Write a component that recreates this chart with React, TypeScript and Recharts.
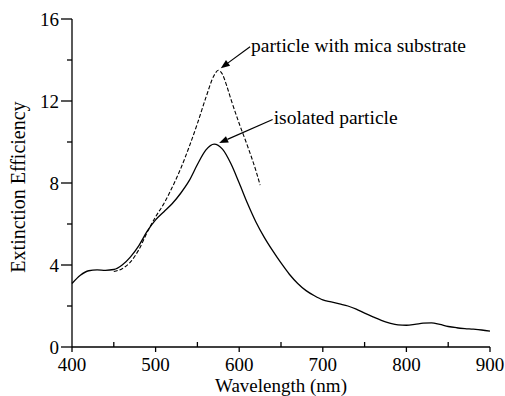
import React from 'react'
import { LineChart, Line, XAxis, YAxis, ReferenceLine } from 'recharts'

const isolatedWavelength = [
  400, 410, 420, 430, 440, 450, 460, 470, 480, 490, 500, 510, 520, 530, 540, 550, 560, 570, 580, 590,
  600, 610, 620, 630, 640, 650, 660, 670, 680, 690, 700, 710, 720, 730, 740, 750, 760, 770, 780, 790,
  800, 810, 820, 830, 840, 850, 860, 870, 880, 890, 900,
]
const isolatedEfficiency = [
  3.1, 3.5, 3.72, 3.76, 3.74, 3.78, 4.0, 4.4, 4.95, 5.65, 6.2, 6.6, 7.0, 7.5, 8.1, 8.9, 9.6, 9.9, 9.65, 8.95,
  8.0, 7.0, 6.1, 5.35, 4.7, 4.1, 3.55, 3.1, 2.75, 2.5, 2.3, 2.2, 2.1, 2.0, 1.85, 1.65, 1.47, 1.3, 1.17, 1.08,
  1.06, 1.1, 1.16, 1.18, 1.1, 1.0, 0.94, 0.9, 0.87, 0.83, 0.77,
]

const micaWavelength = [450, 460, 470, 480, 490, 500, 510, 520, 530, 540, 550, 560, 570, 575, 580, 585, 590, 600, 610, 620, 625]
const micaEfficiency = [3.68, 3.82, 4.15, 4.75, 5.6, 6.35, 7.0, 7.8, 8.7, 9.75, 10.9, 12.15, 13.25, 13.5, 13.3, 12.75, 12.1, 10.9, 9.8, 8.6, 7.9]

const xTicks = [400, 450, 500, 550, 600, 650, 700, 750, 800, 850, 900]
const yTicks = [0, 2, 4, 6, 8, 10, 12, 14, 16]

// annotation: label, where the leader starts (at the text), arrow tip on the curve
const notes = [
  { text: 'particle with mica substrate', from: { x: 613, y: 14.65 }, to: { x: 578, y: 13.6 } },
  { text: 'isolated particle', from: { x: 640, y: 11.1 }, to: { x: 576, y: 9.95 } },
]

const isolated = isolatedWavelength.map((w, i) => ({ w, v: isolatedEfficiency[i] }))
const mica = micaWavelength.map((w, i) => ({ w, v: micaEfficiency[i] }))

const font = { fontFamily: '"Liberation Serif", "Times New Roman", serif', fontSize: 19, fill: '#000' }

function XTick(props: any) {
  const { x, y, payload } = props
  const major = payload.value % 100 === 0
  return (
    <g>
      <line x1={x} x2={x} y1={y} y2={major ? y + 5 : y - 5} stroke="#000" strokeWidth={1.3} />
      {major && (
        <text x={x} y={y + 24} textAnchor="middle" {...font}>
          {payload.value}
        </text>
      )}
    </g>
  )
}

function YTick(props: any) {
  const { x, y, payload } = props
  const major = payload.value % 4 === 0
  return (
    <g>
      <line x1={x} x2={major ? x - 11 : x - 5} y1={y} y2={y} stroke="#000" strokeWidth={1.3} />
      {major && (
        <text x={x - 13} y={y + 6.5} textAnchor="end" {...font}>
          {payload.value}
        </text>
      )}
    </g>
  )
}

const XTitle = (p: any) => {
  const vb = p.viewBox
  return (
    <text x={vb.x + vb.width / 2} y={vb.y + 45} textAnchor="middle" {...font}>
      Wavelength (nm)
    </text>
  )
}

const YTitle = (p: any) => {
  const vb = p.viewBox
  const cx = vb.x + 15
  const cy = vb.y + vb.height / 2 + 4
  return (
    <text x={cx} y={cy} transform={`rotate(-90 ${cx} ${cy})`} textAnchor="middle" {...font} fontSize={20}>
      Extinction Efficiency
    </text>
  )
}

const arrowShape = (text: string) => (p: any) => {
  const { x1, y1, x2, y2 } = p
  const dx = x2 - x1
  const dy = y2 - y1
  const len = Math.sqrt(dx * dx + dy * dy)
  const ux = dx / len
  const uy = dy / len
  const bx = x2 - 9 * ux
  const by = y2 - 9 * uy
  const head = `${x2},${y2} ${bx - 3.5 * uy},${by + 3.5 * ux} ${bx + 3.5 * uy},${by - 3.5 * ux}`
  return (
    <g>
      <line x1={x1} y1={y1} x2={bx} y2={by} stroke="#000" strokeWidth={1.2} />
      <polygon points={head} fill="#000" />
      <text x={x1 + 1} y={y1 + 5} {...font} fontSize={19.5}>
        {text}
      </text>
    </g>
  )
}

export default function App() {
  return (
    <div style={{ position: 'absolute', left: 0, top: 0, background: '#fff' }}>
      <LineChart width={505} height={396} margin={{ top: 19, right: 15, bottom: 0, left: 10 }}>
        <XAxis
          dataKey="w"
          type="number"
          domain={[400, 900]}
          ticks={xTicks}
          interval={0}
          tick={<XTick />}
          tickLine={false}
          tickSize={0}
          tickMargin={0}
          height={49}
          axisLine={{ stroke: '#000', strokeWidth: 1.3 }}
          allowDuplicatedCategory={false}
          label={<XTitle />}
        />
        <YAxis
          type="number"
          domain={[0, 16]}
          ticks={yTicks}
          interval={0}
          tick={<YTick />}
          tickLine={false}
          tickSize={0}
          tickMargin={0}
          width={62}
          axisLine={{ stroke: '#000', strokeWidth: 1.3 }}
          label={<YTitle />}
        />
        <Line data={isolated} dataKey="v" type="monotone" stroke="#000" strokeWidth={1.3} dot={false} isAnimationActive={false} />
        <Line
          data={mica}
          dataKey="v"
          type="monotone"
          stroke="#000"
          strokeWidth={1.1}
          strokeDasharray="4 2"
          dot={false}
          isAnimationActive={false}
        />
        {notes.map((n) => (
          <ReferenceLine key={n.text} segment={[n.from, n.to]} shape={arrowShape(n.text)} ifOverflow="visible" />
        ))}
      </LineChart>
    </div>
  )
}
